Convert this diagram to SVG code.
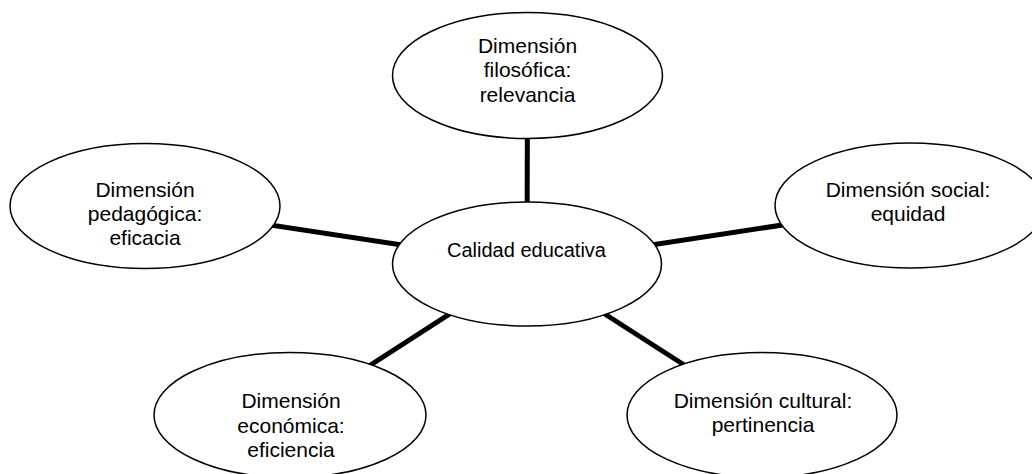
<svg xmlns="http://www.w3.org/2000/svg" width="1032" height="474" viewBox="0 0 1032 474">
<style>
.node ellipse{fill:#ffffff;stroke:#000000;stroke-width:1.5}
.node text{font-family:"Liberation Sans",Arial,sans-serif;font-size:21px;fill:#000000;text-anchor:middle}
#connectors line{stroke:#000000;stroke-width:5;stroke-linecap:butt}
</style>
<rect width="1032" height="474" fill="#ffffff"/>
<g id="connectors">
<line x1="527" y1="264" x2="527.5" y2="75.5"/>
<line x1="527" y1="264" x2="145" y2="206"/>
<line x1="527" y1="264" x2="910" y2="205.5"/>
<line x1="527" y1="264" x2="290" y2="417"/>
<line x1="527" y1="264" x2="762" y2="415"/>
</g>
<g id="node-top" class="node">
<ellipse cx="527.5" cy="75.5" rx="135" ry="63"/>
<text x="527.5" y="52.7">Dimensión</text>
<text x="527.5" y="77.3">filosófica:</text>
<text x="527.5" y="101.7">relevancia</text>
</g>
<g id="node-left" class="node">
<ellipse cx="145" cy="206" rx="135" ry="62.5"/>
<text x="145" y="196.7">Dimensión</text>
<text x="145" y="220.8">pedagógica:</text>
<text x="145" y="245">eficacia</text>
</g>
<g id="node-right" class="node">
<ellipse cx="910" cy="205.5" rx="135" ry="62.5"/>
<text x="908" y="196.7">Dimensión social:</text>
<text x="908" y="220.7">equidad</text>
</g>
<g id="node-center" class="node">
<ellipse cx="527" cy="264" rx="134.5" ry="62"/>
<text x="526.5" y="257.3" style="font-size:20px">Calidad educativa</text>
</g>
<g id="node-bottom-left" class="node">
<ellipse cx="290" cy="415" rx="136" ry="62.5"/>
<text x="291" y="408.3">Dimensión</text>
<text x="291" y="432.5">económica:</text>
<text x="291" y="456.7">eficiencia</text>
</g>
<g id="node-bottom-right" class="node">
<ellipse cx="762" cy="415" rx="135" ry="62.5"/>
<text x="763" y="408.3">Dimensión cultural:</text>
<text x="763" y="431.7">pertinencia</text>
</g>
</svg>
